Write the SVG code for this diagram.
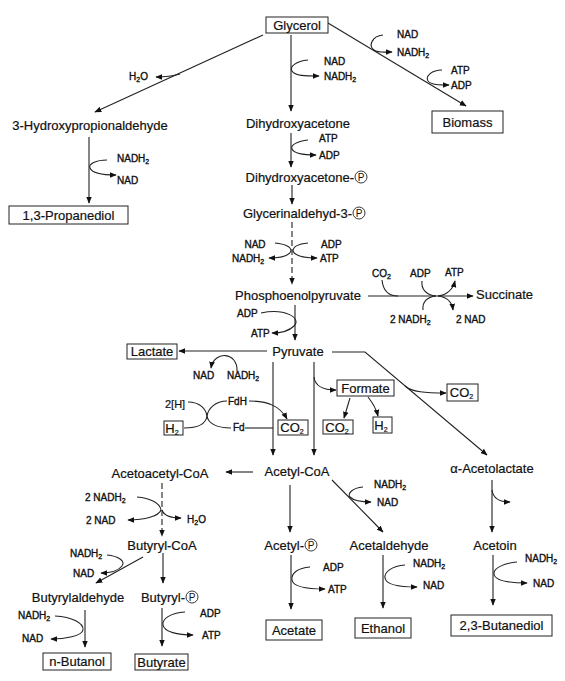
<svg xmlns="http://www.w3.org/2000/svg" width="565" height="681" viewBox="0 0 565 681">
<defs>
<marker id="ah" viewBox="0 0 10 10" refX="9" refY="5" markerWidth="7" markerHeight="7" markerUnits="userSpaceOnUse" orient="auto"><path d="M0,1 L10,5 L0,9 z" fill="#111"/></marker>
<style>
text{font-family:"Liberation Sans",Arial,sans-serif;fill:#111}
.n{font-size:13px;stroke:#111;stroke-width:0.2}
.c{font-size:10px;stroke:#111;stroke-width:0.35}
.m{text-anchor:middle}
.e{text-anchor:end}
.s{font-size:7px;baseline-shift:-1.5px}
.box{fill:#fff;stroke:#222;stroke-width:1}
.pc{fill:none;stroke:#222;stroke-width:0.9}
.p{font-size:10px;stroke:none}
.ln{fill:none;stroke:#222;stroke-width:1.1}
.ar{marker-end:url(#ah)}
.ds{stroke-dasharray:6 3}
</style>
</defs>
<rect width="565" height="681" fill="#fff"/>

<g id="connectors">
<path class="ln ar" d="M263,35 L95,112"/>
<path class="ln ar" d="M180,74 Q170,77 156,77"/>
<path class="ln ar" d="M291,35 L291,111"/>
<path class="ln ar" d="M308,60 C296,61 289,67 292,71 C295,76 305,76 319,76"/>
<path class="ln ar" d="M328,23 L466,106"/>
<path class="ln ar" d="M383,35 C372,36 368,46 374,50 C378,53 384,52 392,52"/>
<path class="ln ar" d="M442,70 C432,70 425,76 428,81 C431,85 440,85 449,85"/>
<path class="ln ar" d="M89,137 L89,203"/>
<path class="ln ar" d="M107,160 C96,160 88,164 90,168 C92,173 104,175 116,175"/>
<path class="ln ar" d="M291,133 L291,167"/>
<path class="ln ar" d="M308,140 C298,141 290,145 292,149 C294,154 305,155 316,155"/>
<path class="ln ar" d="M292,185 L292,204"/>
<path class="ln ar ds" d="M292,222 L292,284"/>
<path class="ln ar" d="M275,243 C285,244 291,247 291,251 C289,256 280,258 269,258"/>
<path class="ln ar" d="M308,243 C298,244 293,247 293,251 C295,256 305,258 317,258"/>
<path class="ln ar" d="M368,296 L473,296"/>
<path class="ln" d="M382,280 C383,290 388,296 398,296"/>
<path class="ln" d="M422,281 C421,289 426,295 436,296"/>
<path class="ln ar" d="M438,296 C447,295 453,289 455,281"/>
<path class="ln" d="M423,310 C422,302 427,297 436,296"/>
<path class="ln ar" d="M438,296 C447,297 452,302 453,310"/>
<path class="ln ar" d="M295,305 L295,340"/>
<path class="ln ar" d="M261,313 C285,308 302,318 294,326 C289,331 282,333 272,333"/>
<path class="ln ar" d="M267,351 L179,351"/>
<path class="ln ar" d="M237,371 C238,352 214,350 211,368"/>
<path class="ln ar" d="M273,362 L273,455"/>
<path class="ln ar" d="M314,362 L314,455"/>
<path class="ln ar" d="M314,377 C315,386 322,390 336,390"/>
<path class="ln ar" d="M350,398 L344,418"/>
<path class="ln ar" d="M368,397 C372,402 376,408 378,416"/>
<path class="ln" d="M188,402 C200,402 206,409 207,416 C206,423 199,428 184,428"/>
<path class="ln" d="M227,401 C215,401 208,409 207,416 C208,423 216,428 231,428"/>
<path class="ln ar" d="M249,401 C268,401 280,406 287,419"/>
<path class="ln" d="M245,428 L273,428"/>
<path class="ln ar" d="M332,352 L365,352 L487,455"/>
<path class="ln ar" d="M405,386 C412,392 425,393 446,393"/>
<path class="ln ar" d="M253,472 L226,472"/>
<path class="ln ar ds" d="M162,483 L162,536"/>
<path class="ln ar" d="M137,497 C150,498 160,503 161,510 C159,516 145,520 128,520"/>
<path class="ln ar" d="M162,510 C164,516 170,518 181,518"/>
<path class="ln ar" d="M143,557 L96,583"/>
<path class="ln ar" d="M107,555 C118,556 126,561 122,566 C118,571 110,573 101,573"/>
<path class="ln ar" d="M163,553 L163,583"/>
<path class="ln ar" d="M85,610 L85,647"/>
<path class="ln ar" d="M55,616 C72,617 84,623 83,630 C82,636 65,639 51,639"/>
<path class="ln ar" d="M162,608 L162,646"/>
<path class="ln ar" d="M185,612 C170,613 162,619 163,625 C164,632 178,635 193,635"/>
<path class="ln ar" d="M290,485 L290,532"/>
<path class="ln ar" d="M332,480 L383,532"/>
<path class="ln ar" d="M363,487 C352,488 347,494 350,497 C354,501 362,502 371,502"/>
<path class="ln ar" d="M291,555 L291,609"/>
<path class="ln ar" d="M310,567 C298,568 291,573 292,580 C293,587 310,589 325,589"/>
<path class="ln ar" d="M383,555 L383,608"/>
<path class="ln ar" d="M405,565 C392,566 384,572 385,578 C386,585 402,587 417,587"/>
<path class="ln ar" d="M492,480 L492,532"/>
<path class="ln ar" d="M492,490 C493,498 498,502 510,502"/>
<path class="ln ar" d="M493,555 L493,605"/>
<path class="ln ar" d="M517,562 C505,563 493,568 494,574 C495,581 512,583 527,583"/>
</g>

<g id="cofactors">
<text class="c" x="129" y="80">H<tspan class="s">2</tspan>O</text>
<text class="c" x="324" y="64.5">NAD</text>
<text class="c" x="324" y="79.5">NADH<tspan class="s">2</tspan></text>
<text class="c" x="397" y="37.5">NAD</text>
<text class="c" x="397" y="55.5">NADH<tspan class="s">2</tspan></text>
<text class="c" x="451" y="73.5">ATP</text>
<text class="c" x="451" y="88.5">ADP</text>
<text class="c" x="117" y="161.5">NADH<tspan class="s">2</tspan></text>
<text class="c" x="117" y="183.5">NAD</text>
<text class="c" x="319" y="141.5">ATP</text>
<text class="c" x="319" y="158.5">ADP</text>
<text class="c m" x="255" y="247.5">NAD</text>
<text class="c" x="232" y="261.5">NADH<tspan class="s">2</tspan></text>
<text class="c" x="321" y="247.5">ADP</text>
<text class="c" x="320" y="261.5">ATP</text>
<text class="c" x="372" y="276.5">CO<tspan class="s">2</tspan></text>
<text class="c" x="410" y="276.5">ADP</text>
<text class="c" x="445" y="275.5">ATP</text>
<text class="c" x="390" y="322.5">2 NADH<tspan class="s">2</tspan></text>
<text class="c" x="456" y="322.5">2 NAD</text>
<text class="c" x="237" y="316.5">ADP</text>
<text class="c" x="251" y="336.5">ATP</text>
<text class="c" x="193" y="378.5">NAD</text>
<text class="c" x="227" y="378.5">NADH<tspan class="s">2</tspan></text>
<text class="n" x="165" y="408" style="font-size:11px">2[H]</text>
<text class="c" x="228" y="404.5">FdH</text>
<text class="c" x="233" y="431">Fd</text>
<text class="c" x="85" y="500.5">2 NADH<tspan class="s">2</tspan></text>
<text class="c" x="86" y="523.5">2 NAD</text>
<text class="c" x="187" y="522.5">H<tspan class="s">2</tspan>O</text>
<text class="c" x="70" y="556.5">NADH<tspan class="s">2</tspan></text>
<text class="c" x="73" y="576.5">NAD</text>
<text class="c" x="18" y="618.5">NADH<tspan class="s">2</tspan></text>
<text class="c" x="22" y="641.5">NAD</text>
<text class="c" x="200" y="616.5">ADP</text>
<text class="c" x="202" y="638.5">ATP</text>
<text class="c" x="374" y="487.5">NADH<tspan class="s">2</tspan></text>
<text class="c" x="377" y="505.5">NAD</text>
<text class="c" x="323" y="570.5">ADP</text>
<text class="c" x="328" y="592.5">ATP</text>
<text class="c" x="413" y="566.5">NADH<tspan class="s">2</tspan></text>
<text class="c" x="423" y="588.5">NAD</text>
<text class="c" x="525" y="561.5">NADH<tspan class="s">2</tspan></text>
<text class="c" x="533" y="586.5">NAD</text>
</g>

<g id="glycerol"><rect class="box" x="266" y="17" width="62" height="16"/><text class="n m" x="297" y="29.5">Glycerol</text></g>
<g id="hpa"><text class="n m" x="90" y="129.5">3-Hydroxypropionaldehyde</text></g>
<g id="propanediol"><rect class="box" x="9" y="206" width="119" height="18"/><text class="n m" x="68.5" y="219.5">1,3-Propanediol</text></g>
<g id="biomass"><rect class="box" x="432" y="111" width="71" height="22"/><text class="n m" x="467.5" y="126.5">Biomass</text></g>
<g id="dha"><text class="n m" x="298" y="127.5">Dihydroxyacetone</text></g>
<g id="dhap"><text class="n e" x="354" y="181.5">Dihydroxyacetone-</text><circle class="pc" cx="361" cy="177" r="6"/><text class="p m" x="361" y="180.6">P</text></g>
<g id="gap"><text class="n e" x="352" y="217.5">Glycerinaldehyd-3-</text><circle class="pc" cx="359" cy="213" r="6"/><text class="p m" x="359" y="216.6">P</text></g>
<g id="pep"><text class="n m" x="298" y="299.5">Phosphoenolpyruvate</text></g>
<g id="succinate"><text class="n" x="476" y="298.5">Succinate</text></g>
<g id="pyruvate"><text class="n m" x="298" y="355.5">Pyruvate</text></g>
<g id="lactate"><rect class="box" x="127" y="344" width="50" height="15"/><text class="n m" x="152" y="355.5">Lactate</text></g>
<g id="formate"><rect class="box" x="337" y="380" width="57" height="16"/><text class="n m" x="365.5" y="392.5">Formate</text></g>
<g id="co2_formate"><rect class="box" x="323" y="420" width="30" height="14"/><text class="n m" x="337" y="431.5">CO<tspan class="s">2</tspan></text></g>
<g id="h2_formate"><rect class="box" x="373" y="417" width="19" height="16"/><text class="n m" x="381" y="429.5">H<tspan class="s">2</tspan></text></g>
<g id="co2_pyruvate"><rect class="box" x="278" y="420" width="30" height="15"/><text class="n m" x="292" y="432">CO<tspan class="s">2</tspan></text></g>
<g id="h2_left"><rect class="box" x="164" y="421" width="19" height="14"/><text class="n m" x="172" y="432.5">H<tspan class="s">2</tspan></text></g>
<g id="co2_right"><rect class="box" x="447" y="384" width="31" height="17"/><text class="n m" x="461.5" y="397">CO<tspan class="s">2</tspan></text></g>
<g id="acetoacetylcoa"><text class="n m" x="160" y="477.5">Acetoacetyl-CoA</text></g>
<g id="acetylcoa"><text class="n m" x="297" y="475.5">Acetyl-CoA</text></g>
<g id="acetolactate"><text class="n m" x="492" y="472.5">α-Acetolactate</text></g>
<g id="butyrylcoa"><text class="n m" x="162" y="549.5">Butyryl-CoA</text></g>
<g id="acetylp"><text class="n e" x="304" y="549.5">Acetyl-</text><circle class="pc" cx="311" cy="545" r="6"/><text class="p m" x="311" y="548.6">P</text></g>
<g id="acetaldehyde"><text class="n m" x="389" y="549.5">Acetaldehyde</text></g>
<g id="acetoin"><text class="n m" x="495" y="549.5">Acetoin</text></g>
<g id="butyrylaldehyde"><text class="n m" x="78" y="601.5">Butyrylaldehyde</text></g>
<g id="butyrylp"><text class="n e" x="185" y="601.5">Butyryl-</text><circle class="pc" cx="192" cy="597" r="6"/><text class="p m" x="192" y="600.6">P</text></g>
<g id="nbutanol"><rect class="box" x="43" y="653" width="68" height="17"/><text class="n m" x="77" y="666">n-Butanol</text></g>
<g id="butyrate"><rect class="box" x="135" y="654" width="53" height="16"/><text class="n m" x="161.5" y="666.5">Butyrate</text></g>
<g id="acetate"><rect class="box" x="266" y="620" width="56" height="20"/><text class="n m" x="294" y="634.5">Acetate</text></g>
<g id="ethanol"><rect class="box" x="355" y="618" width="56" height="20"/><text class="n m" x="383" y="632.5">Ethanol</text></g>
<g id="butanediol"><rect class="box" x="451" y="615" width="101" height="21"/><text class="n m" x="501.5" y="630">2,3-Butanediol</text></g>
</svg>
